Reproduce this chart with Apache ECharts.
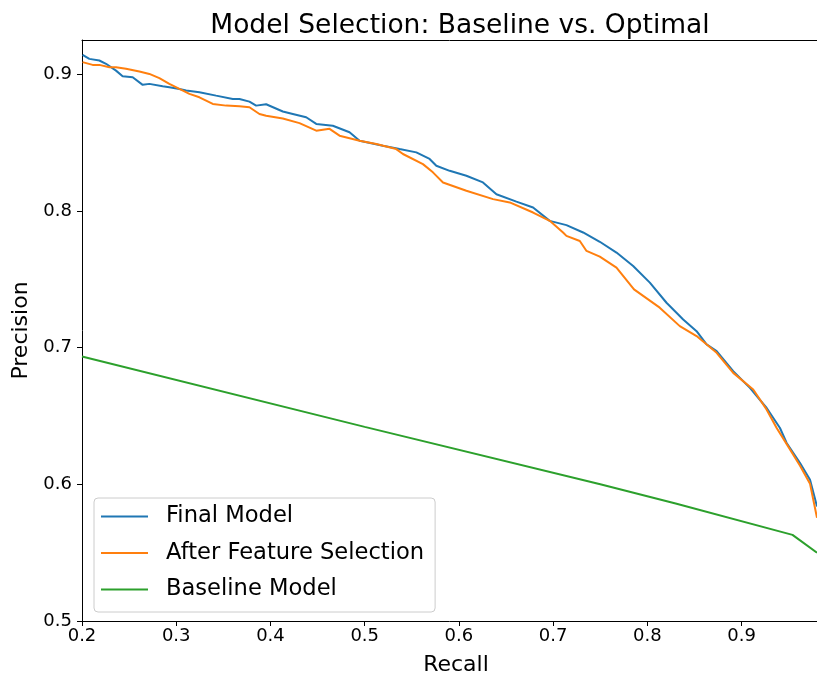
<!DOCTYPE html>
<html>
<head>
<meta charset="utf-8">
<script src="https://cdn.jsdelivr.net/npm/echarts@6/dist/echarts.min.js"></script>
<style>
html,body{margin:0;padding:0;background:#fff;overflow:hidden;}
#chart{width:817px;height:682px;}
</style>
</head>
<body>
<div id="chart"></div>
<script>
var chartTitle = 'Model Selection: Baseline vs. Optimal';
var seriesNames = ['Final Model', 'After Feature Selection', 'Baseline Model'];
var xTicks = [0.2, 0.3, 0.4, 0.5, 0.6, 0.7, 0.8, 0.9];
var yTicks = [0.5, 0.6, 0.7, 0.8, 0.9];

var finalRecall = [0.2006,0.2078,0.2184,0.2255,0.2361,0.2431,0.2538,0.2644,0.2715,0.2856,0.2927,0.3034,0.3105,0.3246,0.3423,0.36,0.3671,0.3777,0.3848,0.3954,0.4131,0.4237,0.4379,0.4486,0.4662,0.4839,0.4946,0.5193,0.537,0.5548,0.5689,0.576,0.5902,0.6079,0.6255,0.6398,0.661,0.6787,0.6964,0.7141,0.7318,0.7495,0.7672,0.7849,0.8026,0.8203,0.838,0.8522,0.8628,0.8735,0.8911,0.9088,0.9266,0.9407,0.9478,0.962,0.9726,0.98];
var finalPrecision = [0.9141,0.9112,0.910,0.9076,0.9026,0.8985,0.8978,0.8922,0.8929,0.8912,0.8905,0.8892,0.888,0.8868,0.8843,0.8819,0.8819,0.8799,0.877,0.878,0.8727,0.8709,0.8685,0.8636,0.8623,0.8575,0.8513,0.8477,0.8452,0.8428,0.838,0.833,0.8293,0.8257,0.8208,0.8122,0.8068,0.8025,0.7927,0.7896,0.7842,0.7774,0.7695,0.7597,0.7475,0.7328,0.7206,0.712,0.7023,0.6974,0.6827,0.6705,0.6558,0.6412,0.6302,0.6155,0.6033,0.5837];

var afsRecall = [0.2006,0.2113,0.2184,0.229,0.2361,0.2467,0.2609,0.2715,0.2821,0.2927,0.3034,0.314,0.3246,0.3388,0.353,0.3671,0.3777,0.3883,0.3954,0.4131,0.4308,0.4486,0.4627,0.4733,0.4946,0.5123,0.5335,0.5406,0.5618,0.5724,0.5831,0.6079,0.6362,0.6539,0.6787,0.6964,0.7105,0.7141,0.7283,0.7354,0.7495,0.7672,0.7858,0.8131,0.8344,0.8522,0.8735,0.8911,0.9123,0.9266,0.9372,0.9482,0.962,0.9726,0.98];
var afsPrecision = [0.9088,0.9068,0.9068,0.9051,0.9051,0.9039,0.9019,0.9002,0.8971,0.8929,0.8892,0.8856,0.8831,0.8782,0.877,0.8765,0.8758,0.8709,0.8696,0.8676,0.8642,0.8587,0.86,0.855,0.8513,0.8489,0.8452,0.8416,0.8342,0.8282,0.8208,0.8147,0.8086,0.8062,0.7988,0.7927,0.7842,0.7817,0.778,0.7707,0.7665,0.7585,0.7426,0.7292,0.7157,0.7084,0.6962,0.6815,0.6693,0.6546,0.6412,0.629,0.6136,0.6004,0.5755];

var baseRecall = [0.2, 0.5, 0.75, 0.83, 0.954, 0.98];
var basePrecision = [0.6935, 0.642, 0.6, 0.586, 0.563, 0.55];

function zip(a, b) { return a.map(function (v, i) { return [v, b[i]]; }); }

var FONT = 'DejaVu Sans';
var chart = echarts.init(document.getElementById('chart'), null, {renderer: 'canvas'});
chart.setOption({
  animation: false,
  backgroundColor: '#fff',
  title: {
    text: chartTitle,
    left: 455,
    top: 8,
    textAlign: 'center',
    textStyle: {fontFamily: FONT, fontSize: 26.5, fontWeight: 'normal', color: '#000'}
  },
  grid: {
    left: 82, top: 40, right: 0, bottom: 61, show: false
  },
  legend: {
    data: seriesNames,
    orient: 'vertical',
    left: 94, top: 498,
    padding: [7, 11, 11, 7],
    itemGap: 13.5,
    itemWidth: 47,
    itemHeight: 2,
    icon: 'rect',
    backgroundColor: 'rgba(255,255,255,0.8)',
    borderColor: '#cccccc',
    borderWidth: 1,
    borderRadius: 4,
    textStyle: {fontFamily: FONT, fontSize: 22.6, color: '#000', padding: [0, 0, 0, 13], lineHeight: 22}
  },
  xAxis: [{
    type: 'value',
    min: 0.2, max: 0.98, interval: 0.1,
    name: 'Recall', nameLocation: 'middle', nameGap: 33,
    nameTextStyle: {fontFamily: FONT, fontSize: 22, color: '#000', padding: [0, 0, 0, 13]},
    axisLine: {show: true, onZero: false, lineStyle: {color: '#000', width: 1}},
    axisTick: {show: true, inside: false, length: 5, lineStyle: {color: '#000'}, customValues: xTicks},
    axisLabel: {fontFamily: FONT, fontSize: 18, color: '#000', margin: 6, customValues: xTicks,
      formatter: function (v) { return v.toFixed(1); }},
    splitLine: {show: false}
  }, {
    type: 'value', position: 'top',
    min: 0.2, max: 0.98, interval: 0.1,
    axisLine: {show: true, onZero: false, lineStyle: {color: '#000', width: 1}},
    axisTick: {show: false}, axisLabel: {show: false}, splitLine: {show: false}
  }],
  yAxis: {
    type: 'value',
    min: 0.5, max: 0.925, interval: 0.1,
    name: 'Precision', nameLocation: 'middle', nameGap: 45,
    nameTextStyle: {fontFamily: FONT, fontSize: 22, color: '#000'},
    axisLine: {show: true, onZero: false, lineStyle: {color: '#000', width: 1}},
    axisTick: {show: true, inside: false, length: 5, lineStyle: {color: '#000'}, customValues: yTicks},
    axisLabel: {fontFamily: FONT, fontSize: 18, color: '#000', margin: 10, customValues: yTicks,
      formatter: function (v) { return v.toFixed(1); }},
    splitLine: {show: false}
  },
  series: [
    {name: seriesNames[0], type: 'line', data: zip(finalRecall, finalPrecision), showSymbol: false, symbol: 'none',
      color: '#1f77b4', lineStyle: {color: '#1f77b4', width: 2}, itemStyle: {color: '#1f77b4'}},
    {name: seriesNames[1], type: 'line', data: zip(afsRecall, afsPrecision), showSymbol: false, symbol: 'none',
      color: '#ff7f0e', lineStyle: {color: '#ff7f0e', width: 2}, itemStyle: {color: '#ff7f0e'}},
    {name: seriesNames[2], type: 'line', data: zip(baseRecall, basePrecision), showSymbol: false, symbol: 'none',
      color: '#2ca02c', lineStyle: {color: '#2ca02c', width: 2}, itemStyle: {color: '#2ca02c'}}
  ]
});
</script>
</body>
</html>
